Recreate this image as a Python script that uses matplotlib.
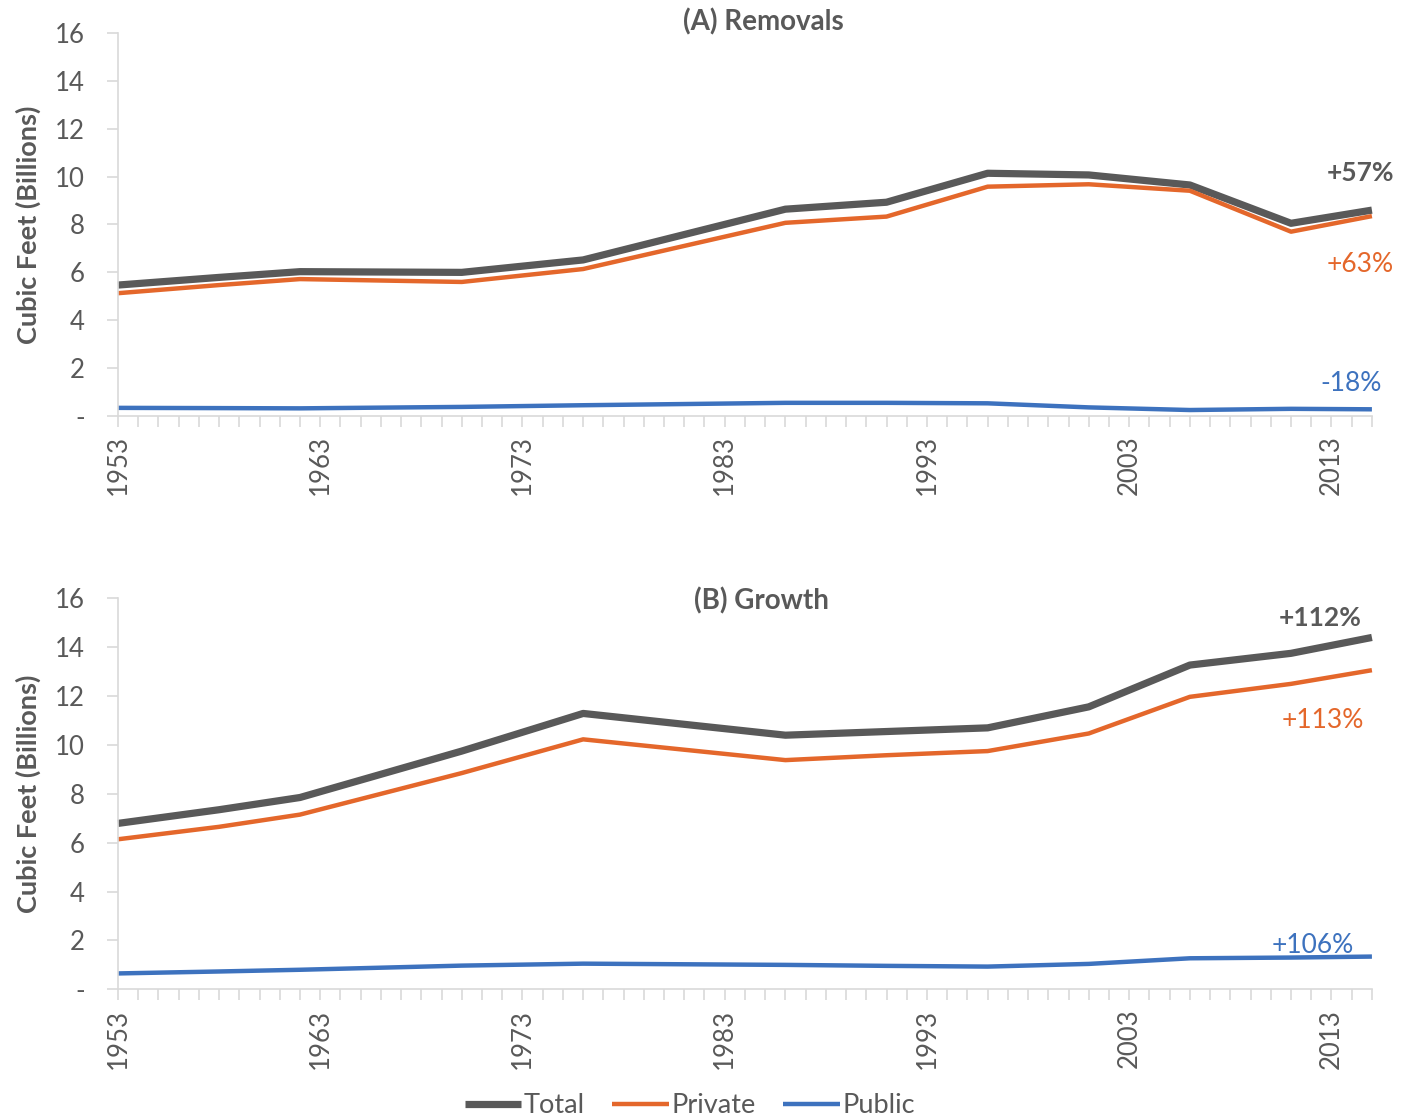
import matplotlib
matplotlib.use('Agg')
import matplotlib.pyplot as plt
from matplotlib.ticker import FixedLocator, FuncFormatter

plt.rcParams['font.family'] = ['Lato', 'DejaVu Sans']

# survey years
years = [1953, 1958, 1962, 1970, 1976, 1986, 1991, 1996, 2001, 2006, 2011, 2015]

# (A) removals, billion cubic feet
rem_total = [5.47, 5.79, 6.03, 6.00, 6.52, 8.64, 8.93, 10.14, 10.07, 9.65, 8.05, 8.60]
rem_private = [5.13, 5.47, 5.72, 5.60, 6.14, 8.07, 8.33, 9.58, 9.68, 9.41, 7.70, 8.35]
rem_public = [0.34, 0.33, 0.32, 0.38, 0.45, 0.55, 0.55, 0.53, 0.36, 0.25, 0.30, 0.28]

# (B) growth, billion cubic feet
gro_total = [6.79, 7.35, 7.85, 9.75, 11.29, 10.40, 10.55, 10.70, 11.56, 13.27, 13.75, 14.40]
gro_private = [6.14, 6.65, 7.15, 8.85, 10.23, 9.38, 9.58, 9.75, 10.47, 11.97, 12.50, 13.06]
gro_public = [0.65, 0.73, 0.80, 0.97, 1.05, 1.00, 0.96, 0.93, 1.04, 1.27, 1.30, 1.34]

series_names = ['Total', 'Private', 'Public']
colors = ['#595959', '#E4672B', '#3D72BE']
widths = [5.2, 3.2, 3.2]

rem_labels = ['+57%', '+63%', '-18%']
gro_labels = ['+112%', '+113%', '+106%']

GRID = '#D9D9D9'
TXT = '#595959'


def style_axis(ax):
    ax.set_xlim(1953, 2015)
    ax.set_ylim(0, 16)
    for s in ['top', 'right']:
        ax.spines[s].set_visible(False)
    for s in ['left', 'bottom']:
        ax.spines[s].set_color(GRID)
        ax.spines[s].set_linewidth(1.2)
    ax.set_yticks(range(0, 17, 2))
    ax.yaxis.set_major_formatter(FuncFormatter(lambda v, p: '-' if v == 0 else f'{int(v)}'))
    ax.xaxis.set_major_locator(FixedLocator(range(1953, 2016, 10)))
    ax.xaxis.set_minor_locator(FixedLocator(range(1953, 2016)))
    ax.tick_params(axis='x', which='both', direction='out', length=8, width=1.2,
                   color=GRID, labelsize=18.5, labelcolor=TXT, rotation=90, pad=6)
    ax.tick_params(axis='y', direction='out', length=8, width=1.2, color=GRID,
                   labelsize=18.5, labelcolor=TXT, pad=16)
    ax.set_ylabel('Cubic Feet (Billions)', fontsize=19.5, fontweight='bold', color=TXT, labelpad=10)


fig = plt.figure(figsize=(14.11, 11.18), dpi=100)
ax1 = fig.add_axes([0.0836, 0.6279, 0.8887, 0.3426])
ax2 = fig.add_axes([0.0836, 0.1151, 0.8887, 0.3497])

for ax, data in [(ax1, [rem_total, rem_private, rem_public]),
                 (ax2, [gro_total, gro_private, gro_public])]:
    for name, vals, c, w in zip(series_names, data, colors, widths):
        ax.plot(years, vals, color=c, lw=w, label=name, solid_joinstyle='round',
                solid_capstyle='butt', clip_on=False)
    style_axis(ax)

# change labels
ax1.text(2016.1, 10.15, rem_labels[0], color=colors[0], fontsize=19, fontweight='bold', ha='right', va='center')
ax1.text(2016.1, 6.31, rem_labels[1], color=colors[1], fontsize=19, ha='right', va='center')
ax1.text(2015.5, 1.34, rem_labels[2], color=colors[2], fontsize=19, ha='right', va='center')
ax2.text(2014.5, 15.19, gro_labels[0], color=colors[0], fontsize=19, fontweight='bold', ha='right', va='center')
ax2.text(2014.6, 11.02, gro_labels[1], color=colors[1], fontsize=19, ha='right', va='center')
ax2.text(2014.1, 1.81, gro_labels[2], color=colors[2], fontsize=19, ha='right', va='center')

fig.text(763 / 1411, 1 - 22 / 1118, '(A) Removals', fontsize=20, fontweight='bold', color=TXT, ha='center', va='center')
fig.text(761 / 1411, 1 - 601 / 1118, '(B) Growth', fontsize=20, fontweight='bold', color=TXT, ha='center', va='center')

handles, labels = ax2.get_legend_handles_labels()
fig.legend(handles, labels, loc='center', bbox_to_anchor=(0.489, 0.011), ncol=3, frameon=False,
           fontsize=19.5, labelcolor=TXT, handlelength=2.1, handletextpad=0.1, columnspacing=1.0,
           borderpad=0)

fig.savefig('out.png', dpi=100)
plt.close(fig)
